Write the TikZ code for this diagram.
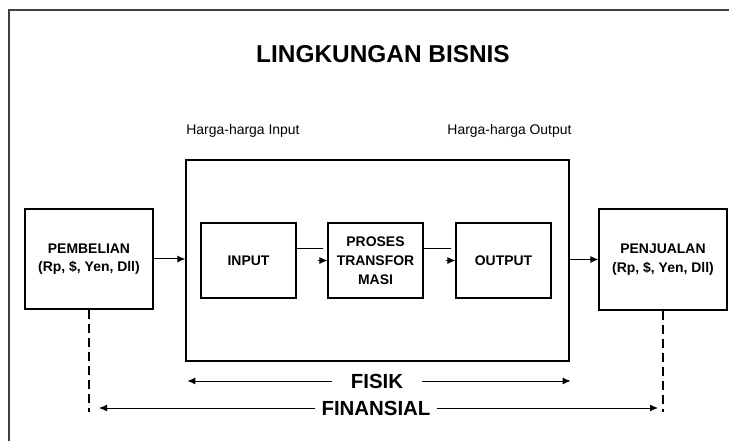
\documentclass[tikz,border=0pt]{standalone}
\usepackage{fontspec}
\setmainfont{Liberation Sans}
\usetikzlibrary{arrows.meta,calc}
\begin{document}
\begin{tikzpicture}[x=1bp,y=-1bp,
  box/.style={draw,line width=1.3bp,inner sep=0pt,align=center,font=\bfseries\fontsize{14}{18.5}\selectfont},
  arr/.style={line width=1bp,-{Latex[length=8bp,width=7bp]}},
  lab/.style={font=\fontsize{14}{16}\selectfont,inner sep=0pt},
  dimtxt/.style={font=\bfseries\fontsize{20.5}{22}\selectfont,inner ysep=0pt},
  dsh/.style={line width=1.2bp,dash pattern=on 9bp off 5bp}]
\useasboundingbox (0,0) rectangle (729,441);
\fill[white] (0,0) rectangle (729,441);
% outer frame
\draw[line width=2bp,black!75] (9,450) -- (9,10) -- (740,10);
\node[font=\bfseries\fontsize{24.5}{28}\selectfont,inner sep=0pt] (title) at (383,54) {LINGKUNGAN BISNIS};
\node[lab] (hin) at (243,131) {Harga-harga Input};
\node[lab] (hout) at (509.5,131) {Harga-harga Output};
% boxes
\node[box,minimum width=383bp,minimum height=201bp] (big) at (377.5,260.5) {};
\node[box,minimum width=128bp,minimum height=100bp] (pemb) at (89,259) {PEMBELIAN\\(Rp, \$, Yen, Dll)};
\node[box,minimum width=128bp,minimum height=101bp] (penj) at (663,259.5) {PENJUALAN\\(Rp, \$, Yen, Dll)};
\node[box,minimum width=95bp,minimum height=75bp] (inp) at (248.5,260.5) {INPUT};
\node[box,minimum width=95bp,minimum height=75bp,font=\bfseries\fontsize{14}{19}\selectfont] (pros) at (375.5,260.5) {PROSES\\TRANSFOR\\MASI};
\node[box,minimum width=95bp,minimum height=75bp] (outp) at (503.5,260.5) {OUTPUT};
% connectors
\draw[arr] (pemb.east) -- (pemb.east -| big.west);
\draw[arr] (penj.west -| big.east) -- (penj.west);
\draw[line width=1bp] ([yshift=11.5bp]inp.east) -- ([yshift=11.5bp,xshift=-4bp]pros.west);
\draw[arr] ([xshift=-9bp]pros.west) -- (pros.west);
\draw[line width=1bp] ([yshift=11.5bp]pros.east) -- ([yshift=11.5bp,xshift=-4bp]outp.west);
\draw[arr] ([xshift=-9bp]outp.west) -- (outp.west);
% dashed verticals
\coordinate (dl) at (89,412);
\coordinate (dr) at (663,412);
\draw[dsh] (pemb.south) -- (dl);
\draw[dsh] (penj.south) -- (dr);
% FISIK
\node[dimtxt,inner xsep=19bp] (fis) at (377,381) {FISIK};
\coordinate (fl) at ($(big.west |- fis)+(2,0)$);
\coordinate (fr) at ($(big.east |- fis)+(1,0)$);
\draw[arr] (fis.west) -- (fl);
\draw[arr] (fis.east) -- (fr);
% FINANSIAL
\node[dimtxt,inner xsep=6bp] (fin) at (376,408) {FINANSIAL};
\coordinate (nl) at ($(dl |- fin)+(10,0)$);
\coordinate (nr) at ($(dr |- fin)+(-5,0)$);
\draw[arr] (fin.west) -- (nl);
\draw[arr] (fin.east) -- (nr);
\end{tikzpicture}
\end{document}
